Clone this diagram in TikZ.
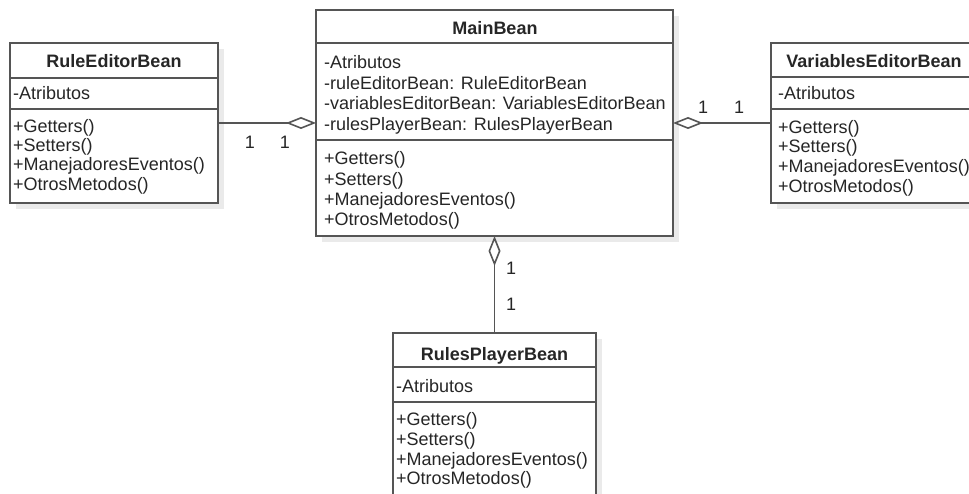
\documentclass[tikz,border=0pt]{standalone}
\usepackage{fontspec}
\setmainfont{Liberation Sans}
\usetikzlibrary{arrows.meta,shadows}
\definecolor{umlline}{HTML}{555555}
\definecolor{umltext}{HTML}{262626}
\definecolor{umlshadow}{HTML}{EAEAEA}

\begin{document}
\begin{tikzpicture}[x=1pt,y=-1pt,
  classbox/.style={draw=umlline, line width=1.6pt, fill=white, outer sep=0pt,
    inner sep=0pt, anchor=north west,
    drop shadow={shadow xshift=6pt, shadow yshift=-6pt, fill=umlshadow, opacity=1}},
  divider/.style={draw=umlline, line width=1.6pt},
  title/.style={font=\fontsize{18}{20}\selectfont\bfseries, text=umltext,
    inner sep=0pt, anchor=base},
  member/.style={font=\fontsize{18}{20}\selectfont, text=umltext,
    inner sep=0pt, anchor=base west},
  mult/.style={font=\fontsize{18}{20}\selectfont, text=umltext,
    inner sep=0pt, anchor=base},
  agg/.style={draw=umlline, line width=1.6pt,
    -{Diamond[open, length=30pt, width=12pt]}}]

\useasboundingbox (0,0) rectangle (969,494);
\fill[white] (0,0) rectangle (969,494);
\clip (0,0) rectangle (969,494);

% ---------- RuleEditorBean ----------
\node[classbox, minimum width=208pt, minimum height=160pt] (rule) at (10,43) {};
\draw[divider] (10,78) -- (218,78);
\draw[divider] (10,109) -- (218,109);
\node[title] (ruleT) at (114,68) {RuleEditorBean};
\node[member] (ruleA) at (13,100) {-Atributos};
\node[member] (ruleM1) at (13,133) {+Getters()};
\node[member] (ruleM2) at (13,152) {+Setters()};
\node[member] (ruleM3) at (13,171) {+ManejadoresEventos()};
\node[member] (ruleM4) at (13,190.5) {+OtrosMetodos()};

% ---------- MainBean ----------
\node[classbox, minimum width=357pt, minimum height=226pt] (main) at (316,10) {};
\draw[divider] (316,43) -- (673,43);
\draw[divider] (316,140) -- (673,140);
\node[title] (mainT) at (495,35) {MainBean};
\node[member] (mainA1) at (324,69) {-Atributos};
\node[member] (mainA2) at (324,89.5) {-ruleEditorBean: RuleEditorBean};
\node[member] (mainA3) at (324,110) {-variablesEditorBean: VariablesEditorBean};
\node[member] (mainA4) at (324,130.5) {-rulesPlayerBean: RulesPlayerBean};
\node[member] (mainM1) at (324,165) {+Getters()};
\node[member] (mainM2) at (324,185.5) {+Setters()};
\node[member] (mainM3) at (324,206) {+ManejadoresEventos()};
\node[member] (mainM4) at (324,226) {+OtrosMetodos()};

% ---------- VariablesEditorBean ----------
\node[classbox, minimum width=206pt, minimum height=160pt] (vars) at (771,43) {};
\draw[divider] (771,77) -- (977,77);
\draw[divider] (771,109) -- (977,109);
\node[title] (varsT) at (874,68) {VariablesEditorBean};
\node[member] (varsA) at (778,100) {-Atributos};
\node[member] (varsM1) at (778,133.5) {+Getters()};
\node[member] (varsM2) at (778,153) {+Setters()};
\node[member] (varsM3) at (778,173) {+ManejadoresEventos()};
\node[member] (varsM4) at (778,192.5) {+OtrosMetodos()};

% ---------- RulesPlayerBean ----------
\node[classbox, minimum width=203pt, minimum height=163pt] (player) at (393,333) {};
\draw[divider] (393,367) -- (596,367);
\draw[divider] (393,402) -- (596,402);
\node[title] (playerT) at (494.5,360) {RulesPlayerBean};
\node[member] (playerA) at (396,392) {-Atributos};
\node[member] (playerM1) at (396,425) {+Getters()};
\node[member] (playerM2) at (396,445) {+Setters()};
\node[member] (playerM3) at (396,465) {+ManejadoresEventos()};
\node[member] (playerM4) at (396,484.5) {+OtrosMetodos()};

% ---------- aggregations ----------
\draw[agg] (rule.east) -- (main.west);
\draw[agg] (vars.west) -- (main.east);
\draw[agg] (player.north) -- (main.south);

% ---------- multiplicities ----------
\node[mult] (m1) at (250,149) {1};
\node[mult] (m2) at (285,149) {1};
\node[mult] (m3) at (703,114) {1};
\node[mult] (m4) at (739,114) {1};
\node[mult] (m5) at (511,275) {1};
\node[mult] (m6) at (511,310) {1};
\end{tikzpicture}
\end{document}
